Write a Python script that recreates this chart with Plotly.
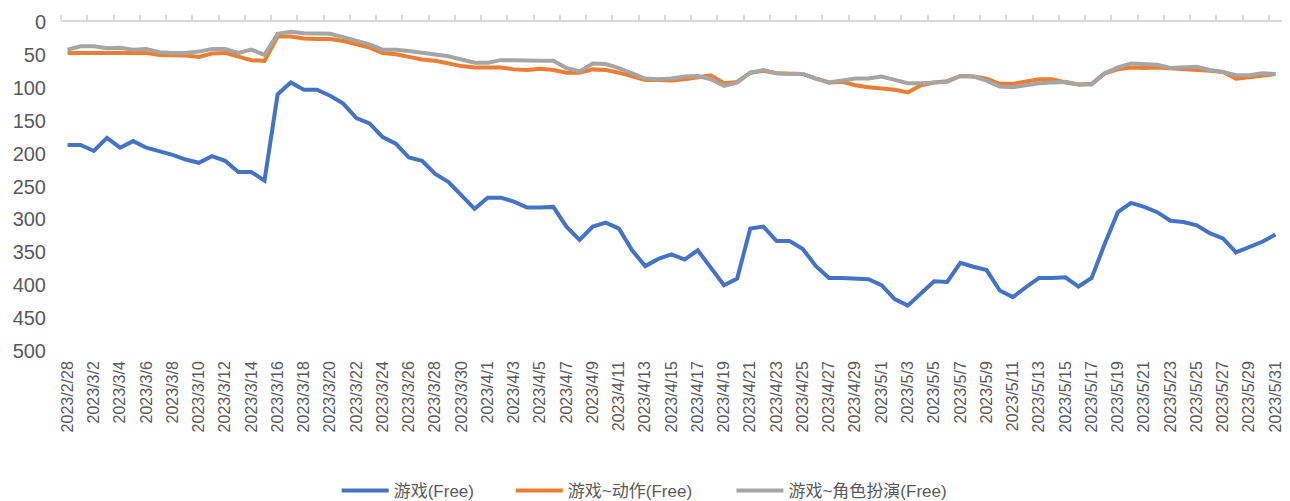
import pandas as pd
import plotly.graph_objects as go

# Categories: daily dates 2023/2/28 .. 2023/5/31
dates = [f"{d.year}/{d.month}/{d.day}" for d in pd.date_range("2023-02-28", "2023-05-31", freq="D")]

game_free = [187, 187, 196, 176, 191, 181, 191, 196, 202, 209, 214, 204, 211, 228, 228, 241,
             110, 92, 103, 103, 112, 124, 146, 154, 175, 185, 206, 211, 231, 243, 263, 284,
             267, 267, 273, 282, 282, 281, 311, 331, 311, 305, 314, 347, 371, 360, 353, 361,
             347, 374, 400, 390, 314, 311, 333, 333, 345, 371, 389, 389, 390, 391, 400, 421,
             431, 413, 394, 395, 366, 372, 377, 408, 418, 403, 389, 389, 388, 402, 389, 337,
             289, 275, 281, 289, 302, 304, 309, 321, 329, 350, 342, 334, 323]

action_free = [47, 47, 47, 46, 47, 47, 47, 50, 50, 51, 53, 48, 47, 53, 58, 59,
               22, 22, 25, 26, 26, 29, 34, 39, 47, 49, 53, 57, 59, 63, 67, 69,
               69, 69, 72, 73, 71, 73, 77, 77, 72, 73, 77, 82, 88, 88, 89, 87,
               84, 81, 93, 91, 77, 74, 78, 79, 79, 86, 92, 91, 96, 99, 101, 103,
               107, 96, 92, 90, 82, 83, 86, 94, 94, 91, 87, 87, 92, 95, 94, 78,
               72, 69, 70, 69, 70, 72, 72, 74, 76, 86, 84, 81, 79]

rpg_free = [42, 37, 37, 40, 39, 42, 41, 46, 47, 47, 45, 41, 41, 47, 42, 50,
            18, 15, 17, 17, 18, 23, 29, 34, 42, 42, 44, 47, 49, 52, 57, 62,
            62, 58, 58, 59, 59, 59, 70, 75, 63, 64, 70, 78, 86, 87, 86, 83,
            82, 87, 97, 92, 77, 73, 78, 79, 79, 86, 92, 89, 86, 86, 83, 88,
            93, 93, 92, 91, 82, 83, 89, 98, 99, 96, 93, 92, 91, 95, 95, 78,
            69, 63, 64, 65, 70, 69, 68, 73, 76, 81, 81, 78, 79]

series_names = ["游戏(Free)", "游戏~动作(Free)", "游戏~角色扮演(Free)"]
series_colors = ["#4472C4", "#ED7D31", "#A5A5A5"]
y_ticks = [0, 50, 100, 150, 200, 250, 300, 350, 400, 450, 500]

FONT = "Liberation Sans, Arial, Noto Sans CJK SC, sans-serif"
TXT = "#595959"

legend_ids = ["legend", "legend2", "legend3"]
legend_x = [0.261, 0.396, 0.567]   # container fractions for each legend entry

fig = go.Figure()
for name, vals, col, lg in zip(series_names, [game_free, action_free, rpg_free],
                               series_colors, legend_ids):
    fig.add_trace(go.Scatter(x=dates, y=vals, mode="lines", name=name, legend=lg,
                             line=dict(color=col, width=4)))

# helper trace for the top axis line with tick marks
n = len(dates)
fig.add_trace(go.Scatter(x=[-0.5, n - 0.5], y=[None, None], xaxis="x2", mode="lines",
                         showlegend=False, hoverinfo="skip"))

legend_common = dict(orientation="h", xref="container", yref="container",
                     xanchor="left", y=0.02, yanchor="middle", itemwidth=47,
                     font=dict(size=17, color=TXT), bgcolor="rgba(0,0,0,0)")

fig.update_layout(
    width=1290, height=501,
    margin=dict(l=61, r=6, t=22, b=150),
    paper_bgcolor="white", plot_bgcolor="white",
    font=dict(family=FONT, color=TXT),
    showlegend=True,
    legend=dict(x=legend_x[0], **legend_common),
    legend2=dict(x=legend_x[1], **legend_common),
    legend3=dict(x=legend_x[2], **legend_common),
    xaxis=dict(type="category", range=[-0.5, n - 0.5],
               tickvals=dates[::2], ticktext=dates[::2],
               tickangle=-90, tickfont=dict(size=16, color=TXT),
               showgrid=False, zeroline=False, showline=False, ticks="",
               ticklabelstandoff=6),
    xaxis2=dict(overlaying="x", side="top", anchor="y", type="linear",
                range=[-0.5, n - 0.5],
                tickvals=[k - 0.5 for k in range(0, n, 2)],
                showticklabels=False, ticks="outside", ticklen=5,
                tickcolor="#D9D9D9", tickwidth=1.5,
                showline=True, linecolor="#D9D9D9", linewidth=1.5,
                showgrid=False, zeroline=False),
    yaxis=dict(range=[500, 0], tickvals=y_ticks,
               tickfont=dict(size=20, color=TXT),
               showgrid=False, zeroline=False, showline=False, ticks="",
               ticklabelstandoff=14),
)

fig.write_html("out.html")
